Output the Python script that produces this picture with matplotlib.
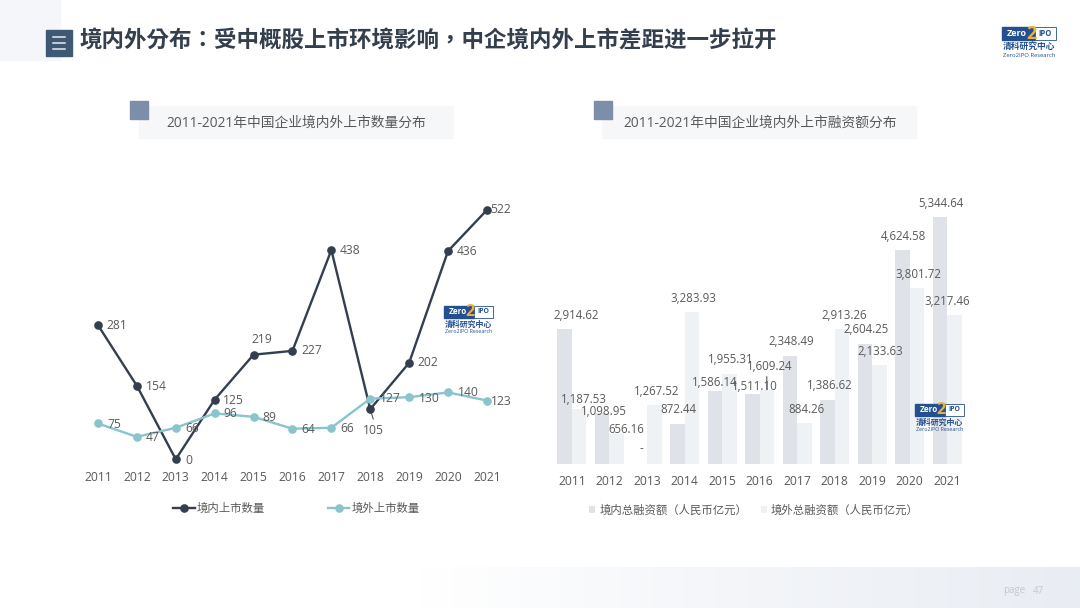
import numpy as np
import matplotlib
matplotlib.use('Agg')
import matplotlib.pyplot as plt
from matplotlib.patches import Rectangle

plt.rcParams['font.family'] = ['Open Sans', 'Noto Sans CJK SC', 'DejaVu Sans']

# data
years = ['2011', '2012', '2013', '2014', '2015', '2016', '2017', '2018', '2019', '2020', '2021']
domestic_count = [281, 154, 0, 125, 219, 227, 438, 105, 202, 436, 522]
overseas_count = [75, 47, 66, 96, 89, 64, 66, 127, 130, 140, 123]
domestic_money = [2914.62, 1098.95, 0, 872.44, 1586.14, 1511.10, 2348.49, 1386.62, 2604.25, 4624.58, 5344.64]
overseas_money = [1187.53, 656.16, 1267.52, 3283.93, 1955.31, 1609.24, 884.26, 2913.26, 2133.63, 3801.72, 3217.46]

title = '境内外分布：受中概股上市环境影响，中企境内外上市差距进一步拉开'
left_title = '2011-2021年中国企业境内外上市数量分布'
right_title = '2011-2021年中国企业境内外上市融资额分布'

# label offsets from the marks, in pixels
domestic_count_off = [(19, 0), (20, -1), (13, -1), (19, -1), (8, 15), (19, 0), (19, 0), (3, -21), (19, 0), (19, 0), (14, 0)]
overseas_count_off = [(16, -1), (16, -1), (16, -1), (16, 0), (16, -1), (16, -1), (16, -1), (20, 0), (20, -1), (20, 0), (14, -1)]
domestic_money_off = [(11, 14), (2, 2), (2, 15), (1, 14), (0, 8), (2, 8), (1, 14), (2, 14), (1, 14), (1, 14), (1, 14)]
overseas_money_off = [(5, 10), (10, 4), (2, 14), (2, 14), (1, 14), (3, 23), (2, 14), (2, 14), (1, 14), (1, 14), (-7, 14)]

DARK = '#333f4f'
TEAL = '#8ac4cc'
BAR_DARK = '#dfe3e9'
BAR_LIGHT = '#eff2f5'
TEXT = '#595959'
W, H = 1080, 608


def px_axes(fig, x0, y0, x1, y1, **kw):
    # axes from pixel box, y counted from the top
    return fig.add_axes([x0 / W, 1 - y1 / H, (x1 - x0) / W, (y1 - y0) / H], **kw)


def draw_logo(ax, x, y, w):
    s = w / 54
    ax.add_patch(Rectangle((x, y), 33 * s, 13 * s, color='#24508f', zorder=5))
    ax.add_patch(Rectangle((x + 33 * s, y), 21 * s, 13 * s, fc='white', ec='#24508f', lw=0.6, zorder=5))
    ax.text(x + 15 * s, y + 6.5 * s, 'Zero', color='white', fontsize=6.5 * s, fontweight='bold', ha='center', va='center', zorder=6)
    ax.text(x + 29 * s, y + 7 * s, '2', color='#e8b23c', fontsize=13 * s, fontweight='bold', ha='center', va='center', zorder=7)
    ax.text(x + 43 * s, y + 6.5 * s, 'IPO', color='#24508f', fontsize=5.5 * s, fontweight='bold', ha='center', va='center', zorder=6)
    ax.text(x + 27 * s, y + 20.5 * s, '清科研究中心', color='#24508f', fontsize=6.3 * s, fontweight='bold', ha='center', va='center', zorder=6)
    ax.text(x + 27 * s, y + 28.5 * s, 'Zero2IPO Research', color='#24508f', fontsize=4.2 * s, ha='center', va='center', zorder=6)


fig = plt.figure(figsize=(W / 100, H / 100), dpi=100, facecolor='white')

# background shapes and headings
bg = px_axes(fig, 0, 0, W, H, zorder=0)
bg.axis('off')
bg.add_patch(Rectangle((0, 0), 60, 60, color='#f4f6f9'))
band = np.linspace(0, 1, 256).reshape(1, -1)
cmap = matplotlib.colors.LinearSegmentedColormap.from_list('band', ['#ffffff', '#f3f5f9', '#e9edf3'])
bg.imshow(band, extent=(420, W, H, 567), cmap=cmap, aspect='auto')
bg.set_xlim(0, W)
bg.set_ylim(H, 0)
bg.add_patch(Rectangle((46, 30), 26, 26, color='#3f5873'))
for ly in [37, 43, 49]:
    bg.plot([53, 65], [ly, ly], color='#e8edf3', lw=1.1)
bg.text(80, 41, title, fontsize=16.2, fontweight='bold', color='#333f4d', va='center', ha='left',
        family=['Noto Sans CJK TC', 'DejaVu Sans'])
for bx, sx, tx, t in [(139, 130, 296, left_title), (602, 594, 760, right_title)]:
    bg.add_patch(Rectangle((bx, 106), 314, 32, color='#f5f7f9'))
    bg.add_patch(Rectangle((sx, 101), 18, 18, color='#7d8fa8'))
    bg.text(tx, 123, t, fontsize=9.9, color=TEXT, ha='center', va='center')
bg.text(1003, 591, 'page', fontsize=7, color='#c5c9ce', va='center')
bg.text(1033, 591, '47', fontsize=7, color='#c5c9ce', va='center')

# left chart, line
ax1 = px_axes(fig, 78.5, 191.8, 506.4, 459.3, zorder=2)
ax1.patch.set_alpha(0)
x = np.arange(len(years))
ax1.plot(x, domestic_count, color=DARK, lw=1.7, marker='o', ms=5.2, clip_on=False, label='境内上市数量', zorder=3)
ax1.plot(x, overseas_count, color=TEAL, lw=1.7, marker='o', ms=5.2, clip_on=False, label='境外上市数量', zorder=4)
ax1.set_xlim(-0.5, 10.5)
ax1.set_ylim(0, 560)
for vals, offs in [(domestic_count, domestic_count_off), (overseas_count, overseas_count_off)]:
    for i, v in enumerate(vals):
        ax1.annotate(str(v), (i, v), xytext=offs[i], textcoords='offset pixels', ha='center', va='center',
                     fontsize=8.7, color=TEXT, zorder=5)
# small leader under the 2018 point
ax1.annotate('', (7, domestic_count[7]), xytext=(3, -10), textcoords='offset pixels',
             arrowprops=dict(arrowstyle='-', color=DARK, lw=0.7, shrinkA=0, shrinkB=0))
ax1.legend(loc='center left', bbox_to_anchor=(173 / W, 1 - 509 / H), bbox_transform=fig.transFigure, ncol=2,
           frameon=False, fontsize=8.2, labelcolor=TEXT, borderaxespad=0, borderpad=0,
           handlelength=1.9, handletextpad=0.2, columnspacing=5.5)

# right chart, bars
ax2 = px_axes(fig, 553.2, 205.3, 966, 464, zorder=2)
ax2.patch.set_alpha(0)
bw = 0.386
ax2.bar(x - bw / 2, domestic_money, bw, color=BAR_DARK, label='境内总融资额（人民币亿元）')
ax2.bar(x + bw / 2, overseas_money, bw, color=BAR_LIGHT, label='境外总融资额（人民币亿元）')
ax2.set_xlim(-0.5, 10.5)
ax2.set_ylim(0, 5600)
for vals, offs, shift in [(domestic_money, domestic_money_off, -bw / 2), (overseas_money, overseas_money_off, bw / 2)]:
    for i, v in enumerate(vals):
        ax2.annotate(f'{v:,.2f}' if v > 0 else '-', (i + shift, v), xytext=offs[i], textcoords='offset pixels',
                     ha='center', va='center', fontsize=8.3, color=TEXT, zorder=5)
# leader line for the 2016 overseas label
ax2.annotate('', (5 + bw / 2, overseas_money[5]), xytext=(0, 13), textcoords='offset pixels',
             arrowprops=dict(arrowstyle='-', color=DARK, lw=0.7, shrinkA=0, shrinkB=0))
ax2.legend(loc='center left', bbox_to_anchor=(589 / W, 1 - 511 / H), bbox_transform=fig.transFigure, ncol=2,
           frameon=False, fontsize=8.2, labelcolor=TEXT, borderaxespad=0, borderpad=0,
           handlelength=0.55, handleheight=0.55, handletextpad=0.35, columnspacing=1.2)

for ax, pad in [(ax1, 8.2), (ax2, 7.6)]:
    for sp in ax.spines.values():
        sp.set_visible(False)
    ax.set_xticks(x, years)
    ax.set_yticks([])
    ax.tick_params(axis='x', length=0, pad=pad, labelsize=8.7, labelcolor=TEXT)

# logos
top = px_axes(fig, 0, 0, W, H, zorder=4)
top.patch.set_alpha(0)
top.set_xlim(0, W)
top.set_ylim(H, 0)
top.axis('off')
draw_logo(top, 1002, 27, 54)
draw_logo(top, 444, 306, 49)
draw_logo(top, 915, 404, 49)

fig.savefig('out.png', dpi=100)
